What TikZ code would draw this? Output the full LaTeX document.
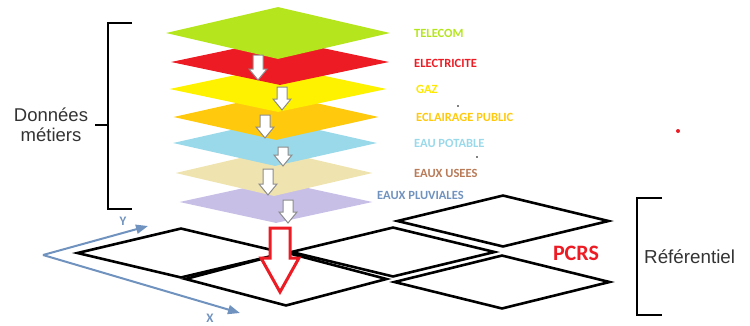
\documentclass[tikz,border=0pt]{standalone}
\usepackage{fontspec}
\setmainfont{Liberation Sans}
\newfontfamily\calibri{Carlito}
\usetikzlibrary{shapes.geometric, arrows.meta}

\definecolor{lime}{HTML}{B5E61D}
\definecolor{paintred}{HTML}{ED1C24}
\definecolor{paintyellow}{HTML}{FFF200}
\definecolor{gold}{HTML}{FFC90E}
\definecolor{turquoise}{HTML}{99D9EA}
\definecolor{beige}{HTML}{EFE4B0}
\definecolor{lavender}{HTML}{C8BFE7}
\definecolor{brown}{HTML}{B97A57}
\definecolor{bluegray}{HTML}{7092BE}

\tikzstyle{layer} = [diamond, inner sep=0pt, minimum width=215pt, minimum height=46pt]
\tikzstyle{tile} = [diamond, inner sep=0pt, draw=black, line width=2.6pt]
\tikzstyle{down} = [draw=gray!90, fill=white, line width=1pt, line join=miter]
\tikzstyle{bigdown} = [draw=paintred, fill=white, line width=3pt, line join=miter]
\tikzstyle{lbl} = [anchor=west, inner sep=0pt, font=\calibri\bfseries\fontsize{12.5}{14}\selectfont]
\tikzstyle{axis} = [line width=2pt, draw=bluegray, -{Triangle[length=12pt,width=9pt]}]
\tikzstyle{bracket} = [line width=2.8pt]
\tikzstyle{side} = [font=\fontsize{18.5}{20}\selectfont, text=black!80, align=center, inner sep=0pt]

% fat down arrows, drawn from the middle of their tail; #1 = length
\tikzset{
  smallarrow/.pic={
    \path[pic actions] (-5,0) -- (5,0) -- (5,{#1-11}) -- (9,{#1-11}) -- (0,#1)
      -- (-9,{#1-11}) -- (-5,{#1-11}) -- cycle;
  },
  bigarrow/.pic={
    \path[pic actions] (-10,0) -- (10,0) -- (10,{#1-34}) -- (19,{#1-34}) -- (0,#1)
      -- (-19,{#1-34}) -- (-10,{#1-34}) -- cycle;
  }
}

\begin{document}
\begin{tikzpicture}[x=1pt,y=-1pt]
\useasboundingbox (0,0) rectangle (750,325);

%%%%% BASE TILES (PCRS)
\node (tileA) [tile, minimum width=208pt, minimum height=50pt] at (181,253) {};
\node (tileB) [tile, minimum width=204pt, minimum height=50pt] at (393,252) {};
\node (tileC) [tile, minimum width=212pt, minimum height=52pt] at (503,221) {};
\node (tileD) [tile, minimum width=216pt, minimum height=54pt] at (502,282) {};
\node (tileE) [tile, minimum width=202pt, minimum height=54pt] at (286,279) {};

%%%%% LAYERS, bottom one first
\node (pluv) [layer, fill=lavender, minimum width=193pt, minimum height=42pt] at (276,202) {};
\node (usees) [layer, fill=beige, minimum width=197pt] at (274,173) {};
\node (potable) [layer, fill=turquoise, minimum width=204pt] at (275,143) {};
\node (eclair) [layer, fill=gold, minimum width=205pt] at (276,117) {};
\node (gaz) [layer, fill=paintyellow, minimum width=217pt] at (278,89) {};
\node (elec) [layer, fill=paintred, minimum width=218pt] at (280,62) {};
\node (telecom) [layer, fill=lime, minimum width=224pt, minimum height=52pt] at (278,33) {};

%%%%% SMALL ARROWS between the layers
\pic (a1) [down] at (258,55) {smallarrow=25};
\pic (a2) [down] at (282,87) {smallarrow=23};
\pic (a3) [down] at (265,115) {smallarrow=23};
\pic (a4) [down] at (283,147) {smallarrow=19};
\pic (a5) [down] at (268,169) {smallarrow=26};
\pic (a6) [down] at (288,200) {smallarrow=23};

% the big one down to the referentiel
\pic (big) [bigdown] at (280,228) {bigarrow=64};

%%%%% LAYER NAMES
\node (tTelecom) [lbl, text=lime] at (414,33) {TELECOM};
\node (tElec) [lbl, text=paintred] at (414,63) {ELECTRICITE};
\node (tGaz) [lbl, text=paintyellow!90!orange] at (416,89) {GAZ};
\node (tEclair) [lbl, text=gold] at (416,117) {ECLAIRAGE PUBLIC};
\node (tPotable) [lbl, text=turquoise] at (414,143) {EAU POTABLE};
\node (tUsees) [lbl, text=brown] at (414,173) {EAUX USEES};
\node (tPluv) [lbl, text=bluegray] at (377,195) {EAUX PLUVIALES};

%%%%% AXES
\coordinate (orig) at (43,255);
\coordinate (yend) at (148,226);
\coordinate (xend) at (240,313);
\draw [axis] (orig) -- (yend);
\draw [axis] (orig) -- (xend);
\node (ylbl) [text=bluegray, font=\calibri\bfseries\fontsize{13}{14}\selectfont] at (123,221) {Y};
\node (xlbl) [text=bluegray, font=\calibri\bfseries\fontsize{13}{14}\selectfont] at (210,318) {X};

%%%%% BRACKETS AND SIDE TEXTS
\draw [bracket] (132,23) -- (108,23) -- (108,209) -- (132,209);
\draw [bracket] (95,125) -- (108,125);
\node (donnees) [side] at (51,125) {Données\\métiers};

\draw [bracket, line width=2.5pt] (662,198) -- (637,198) -- (637,315) -- (662,315);
\node (ref) [side, anchor=west, font=\fontsize{18.8}{20}\selectfont] at (644,257) {Référentiel};

\node (pcrs) [text=paintred, font=\calibri\bfseries\fontsize{22}{24}\selectfont] at (576,253) {PCRS};

% stray dots
\fill [paintred] (678,131) circle (2);
\fill [black] (458,106) circle (0.8);
\fill [black] (477,157) circle (0.8);
\end{tikzpicture}
\end{document}
